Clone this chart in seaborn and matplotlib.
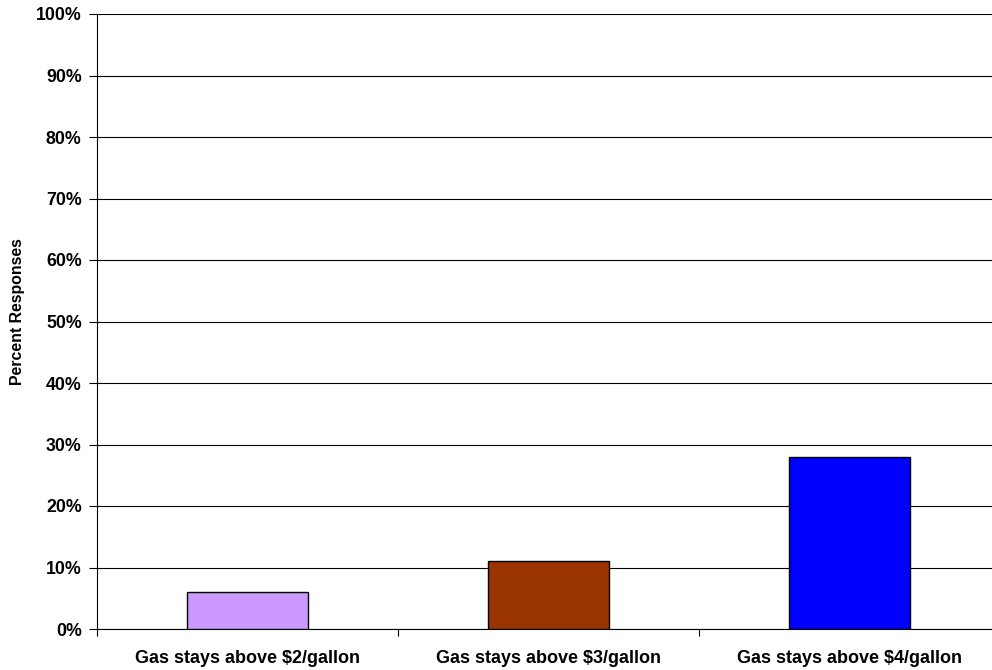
import matplotlib
matplotlib.use('Agg')
import matplotlib.pyplot as plt
from matplotlib.ticker import PercentFormatter, FixedLocator
import seaborn as sns
import pandas as pd

categories = ['Gas stays above $2/gallon', 'Gas stays above $3/gallon', 'Gas stays above $4/gallon']
percent = [6, 11, 28]
colors = ['#CC99FF', '#993300', '#0000FF']

df = pd.DataFrame({'category': categories, 'percent': percent})

sns.set_style('white')
plt.rcParams['font.family'] = ['Liberation Sans', 'DejaVu Sans']
plt.rcParams['text.color'] = 'black'
plt.rcParams['axes.labelcolor'] = 'black'
plt.rcParams['xtick.color'] = 'black'
plt.rcParams['ytick.color'] = 'black'

fig = plt.figure(figsize=(9.92, 6.70), dpi=100)
ax = fig.add_axes([97 / 992, 41 / 670, 1 - 97 / 992, 615 / 670])

sns.barplot(x='category', y='percent', hue='category', data=df, palette=colors,
            legend=False, width=0.4, saturation=1, edgecolor='black', linewidth=1,
            ax=ax, zorder=3)

ax.set_ylim(0, 100)
ax.set_xlim(-0.5, 2.5 - 8 / 301)
ax.set_yticks(range(0, 101, 10))
ax.yaxis.set_major_formatter(PercentFormatter(decimals=0))
ax.grid(axis='y', color='black', linewidth=0.8, zorder=0)
ax.set_axisbelow(True)

ax.xaxis.set_minor_locator(FixedLocator([-0.5, 0.5, 1.5, 2.5]))
ax.tick_params(axis='x', which='major', bottom=True, length=0, pad=15)
ax.tick_params(axis='x', which='minor', bottom=True, length=5, direction='out',
               color='black', width=0.8)
ax.tick_params(axis='y', left=True, length=6, direction='out', color='black',
               width=0.8, pad=5)

for lab in ax.get_xticklabels():
    lab.set_fontweight('bold')
    lab.set_fontsize(13)
for lab in ax.get_yticklabels():
    lab.set_fontweight('bold')
    lab.set_fontsize(12.8)

ax.set_xlabel('')
ax.set_ylabel('Percent Responses', fontsize=11.4, fontweight='bold')
ax.yaxis.set_label_coords(-0.080, 0.516)

for side in ['top', 'right']:
    ax.spines[side].set_visible(False)
for side in ['left', 'bottom']:
    ax.spines[side].set_color('black')
    ax.spines[side].set_linewidth(0.8)

fig.savefig('out.png', dpi=100)
